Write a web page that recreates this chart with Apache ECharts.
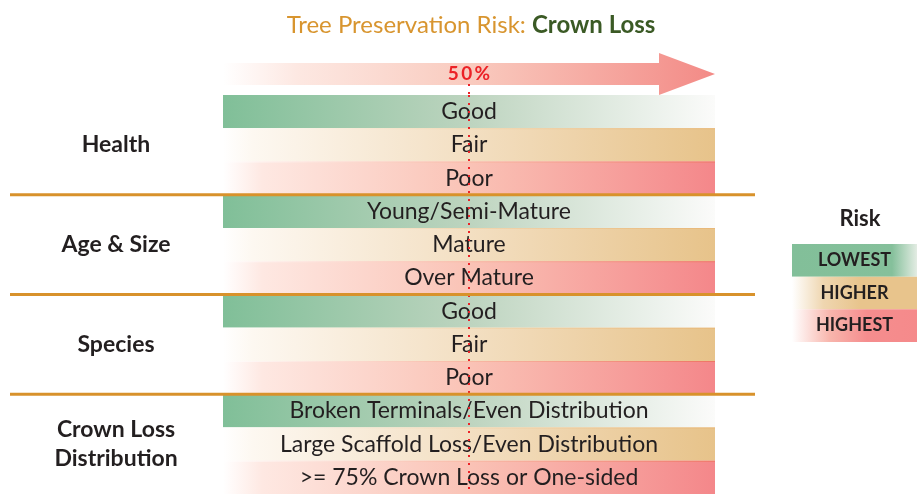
<!DOCTYPE html>
<html>
<head>
<meta charset="utf-8">
<script src="https://cdn.jsdelivr.net/npm/echarts@6/dist/echarts.min.js"></script>
<style>
  html, body { margin: 0; background: #fff; }
  #chart { width: 917px; height: 502px; }
</style>
</head>
<body>
<div id="chart"></div>
<script>
// groups on the left, each one owns a few rows
const groups = ['Health', 'Age & Size', 'Species', 'Crown Loss\nDistribution'];
const groupSizes = [3, 3, 3, 3];
// row texts, top to bottom
const rowLabels = [
  'Good', 'Fair', 'Poor',
  'Young/Semi-Mature', 'Mature', 'Over Mature',
  'Good', 'Fair', 'Poor',
  'Broken Terminals/Even Distribution',
  'Large Scaffold Loss/Even Distribution',
  '>= 75% Crown Loss or One-sided'
];
// 0 = lowest, 1 = higher, 2 = highest
const rowRisk = [0, 1, 2, 0, 1, 2, 0, 1, 2, 0, 1, 2];
// every bar runs the whole 0-100% risk scale
const rowValues = [100, 100, 100, 100, 100, 100, 100, 100, 100, 100, 100, 100];
const riskLevels = ['LOWEST', 'HIGHER', 'HIGHEST'];
const legendValues = [100, 100, 100];
const markerPct = 50;

const FONT = 'Lato, "Open Sans", sans-serif';

function grad(stops) {
  return new echarts.graphic.LinearGradient(0, 0, 1, 0,
    stops.map(s => ({ offset: s[0], color: s[1] })));
}

// fills for the big bars
const rowFills = [
  [[0, '#80bf98'], [0.5, '#bdd4bf'], [1, '#fbfbfa']],
  [[0, '#ffffff'], [0.06, '#fdf8f1'], [0.5, '#f3dfc2'], [1, '#e7c38a']],
  [[0, '#ffffff'], [0.08, '#fee8e2'], [0.5, '#fac3b6'], [1, '#f4878a']]
];
// thin top edge on the higher / highest rows
const rowEdges = [
  null,
  [[0, '#ffffff'], [0.5, '#f2d6b0'], [1, '#e8b878']],
  [[0, '#ffffff'], [0.5, '#f8b8a4'], [1, '#ef7565']]
];
// fills for the legend boxes
const legendFills = [
  [[0, '#82bf99'], [0.8, '#85c09b'], [1, '#e3ece3']],
  [[0, '#ffffff'], [0.25, '#efd6b0'], [0.55, '#e8c48c'], [1, '#e8c48c']],
  [[0, '#ffffff'], [0.3, '#f8b6ad'], [0.6, '#f58d8e'], [1, '#f58a8b']]
];

// where each group starts (for the orange separators)
const boundaries = [];
let acc = 0;
groupSizes.slice(0, -1).forEach(n => { acc += n; boundaries.push(acc); });

const chart = echarts.init(document.getElementById('chart'));

const option = {
  backgroundColor: '#fff',
  animation: false,
  graphic: [
    {
      type: 'text',
      x: 471,
      y: 25,
      style: {
        text: '{a|Tree Preservation Risk: }{b|Crown Loss}',
        align: 'center',
        verticalAlign: 'middle',
        rich: {
          a: { fontFamily: FONT, fontSize: 24, fontWeight: 'normal', fill: '#d8952f', color: '#d8952f' },
          b: { fontFamily: FONT, fontSize: 24, fontWeight: 'bold', fill: '#3b5a25', color: '#3b5a25' }
        }
      }
    },
    {
      type: 'text',
      x: 860,
      y: 219,
      style: {
        text: 'Risk', font: 'bold 22px ' + FONT, fill: '#231f20',
        align: 'center', verticalAlign: 'middle'
      }
    }
  ],
  grid: [
    { left: 223, right: 202, top: 53, height: 42 },   // arrow
    { left: 223, right: 202, top: 95, bottom: 8 },    // rows
    { left: 792, right: 0, top: 244, height: 98 }     // legend
  ],
  xAxis: [
    { gridIndex: 0, type: 'value', min: 0, max: 100, show: false },
    { gridIndex: 1, type: 'value', min: 0, max: 100, show: false },
    { gridIndex: 2, type: 'value', min: 0, max: 100, show: false }
  ],
  yAxis: [
    { gridIndex: 0, type: 'category', data: ['risk'], show: false },
    { gridIndex: 1, type: 'category', data: rowLabels, inverse: true, show: false },
    {
      gridIndex: 1, type: 'category', data: groups, inverse: true, position: 'left',
      axisLine: { show: false }, axisTick: { show: false },
      axisLabel: {
        margin: 107, align: 'center', fontFamily: FONT, fontSize: 23,
        fontWeight: 'bold', color: '#231f20', lineHeight: 29
      }
    },
    { gridIndex: 2, type: 'category', data: riskLevels, inverse: true, show: false }
  ],
  series: [
    {
      // the big risk arrow + 50% mark
      type: 'custom',
      xAxisIndex: 0, yAxisIndex: 0,
      silent: true,
      data: [[100, 0]],
      renderItem: function (params, api) {
        const start = api.coord([0, 0]);
        const end = api.coord([api.value(0), 0]);
        const mid = api.coord([markerPct, 0]);
        const h = api.size([0, 1])[1];
        const cy = start[1];
        const shaft = h * 0.26;
        const head = 56;
        return {
          type: 'group',
          children: [
            {
              type: 'polygon',
              shape: {
                points: [
                  [start[0], cy - shaft], [end[0] - head, cy - shaft],
                  [end[0] - head, cy - h / 2], [end[0], cy],
                  [end[0] - head, cy + h / 2], [end[0] - head, cy + shaft],
                  [start[0], cy + shaft]
                ]
              },
              style: {
                fill: grad([[0, '#ffffff'], [0.15, '#fde8e2'], [0.5, '#f9cbbf'], [1, '#f38a86']])
              }
            },
            {
              type: 'text',
              x: mid[0], y: cy,
              style: {
                text: '5\u20090\u2009%', font: 'bold 19px ' + FONT, fill: '#ec2227',
                align: 'center', verticalAlign: 'middle'
              }
            },
            {
              type: 'line',
              shape: { x1: mid[0], y1: cy + 10, x2: mid[0], y2: cy + h / 2 },
              style: { stroke: '#ec2227', lineWidth: 2, lineDash: [2, 6] }
            }
          ]
        };
      }
    },
    {
      // the rows
      type: 'bar',
      xAxisIndex: 1, yAxisIndex: 1,
      barCategoryGap: 0,
      silent: true,
      data: rowValues.map((v, i) => ({
        value: v,
        itemStyle: { color: grad(rowFills[rowRisk[i]]) }
      })),
      label: {
        show: true,
        position: 'inside',
        formatter: p => rowLabels[p.dataIndex],
        fontFamily: FONT,
        fontSize: 23,
        color: '#231f20'
      },
      markLine: {
        silent: true,
        symbol: 'none',
        label: { show: false },
        lineStyle: { color: '#ec2227', width: 2, type: [2, 6] },
        data: [{ xAxis: markerPct }]
      }
    },
    {
      // thin top edge on the tan / red rows
      type: 'custom',
      xAxisIndex: 1, yAxisIndex: 1,
      silent: true,
      z: 3,
      data: rowValues.map((v, i) => [v, i]).filter(d => rowRisk[d[1]] > 0),
      encode: { x: 0, y: 1 },
      renderItem: function (params, api) {
        const row = api.value(1);
        const left = api.coord([0, row]);
        const right = api.coord([api.value(0), row]);
        const y = left[1] - api.size([0, 1])[1] / 2 + 0.5;
        return {
          type: 'line',
          shape: { x1: left[0], y1: y, x2: right[0], y2: y },
          style: { stroke: grad(rowEdges[rowRisk[row]]), lineWidth: 1 }
        };
      }
    },
    {
      // orange separators between the groups
      type: 'custom',
      xAxisIndex: 1, yAxisIndex: 1,
      silent: true,
      z: 5,
      data: boundaries.map(b => [0, b]),
      encode: { x: 0, y: 1 },
      renderItem: function (params, api) {
        const y = api.coord([0, api.value(1)])[1] - api.size([0, 1])[1] / 2;
        return {
          type: 'line',
          shape: { x1: 10, y1: y, x2: 755, y2: y },
          style: { stroke: '#d8922b', lineWidth: 3 }
        };
      }
    },
    {
      // legend boxes
      type: 'bar',
      xAxisIndex: 2, yAxisIndex: 3,
      barCategoryGap: 0,
      silent: true,
      data: legendValues.map((v, i) => ({
        value: v,
        itemStyle: { color: grad(legendFills[i]) }
      })),
      label: {
        show: true,
        position: 'inside',
        formatter: p => riskLevels[p.dataIndex],
        fontFamily: FONT,
        fontSize: 18,
        fontWeight: 'bold',
        color: '#231f20'
      }
    }
  ]
};

chart.setOption(option);
</script>
</body>
</html>
